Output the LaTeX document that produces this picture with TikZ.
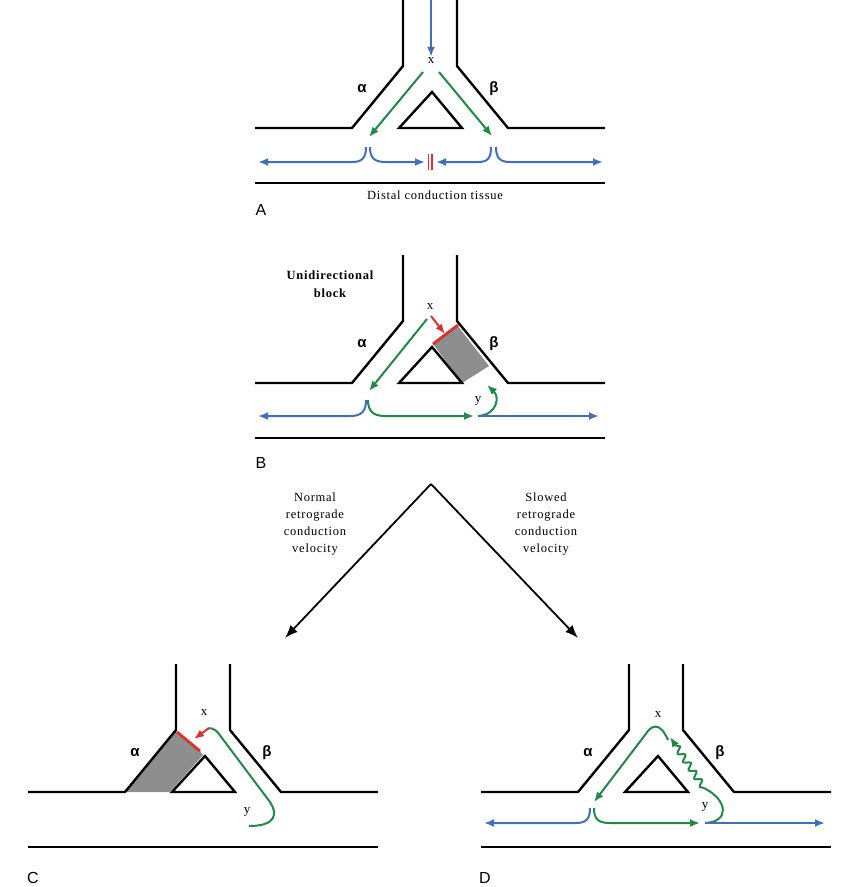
\documentclass[tikz,border=0pt]{standalone}
\usepackage{fontspec}
\setmainfont{Liberation Serif}
\setsansfont{Liberation Sans}
\usetikzlibrary{arrows, arrows.meta, positioning, decorations.pathmorphing}
\definecolor{SigBlue}{HTML}{3F6FBF}
\definecolor{SigGreen}{HTML}{1E8A45}
\definecolor{BlockRed}{HTML}{E0302E}
\definecolor{BlockGray}{HTML}{8E8E8E}

% outline of the branching fibre, drawn in panel-A coordinates
\newcommand{\fibre}{%
  \draw[tissue] (403,0) -- (403,66) -- (352,128) -- (255,128);
  \draw[tissue] (457,0) -- (457,66) -- (508,128) -- (605,128);
  \draw[tissue] (255,183) -- (605,183);
  \draw[tissue] (432,92) -- (399,128) -- (462,128) -- cycle;
  \node[greek] (alpha) at (362,89) {α};
  \node[greek] (beta) at (494,89) {β};
}

\begin{document}
\begin{tikzpicture} [
			x=1pt, y=-1pt,
			tissue/.style={line width=2.4pt, line join=miter},
			tip/.style={-{Latex[length=10pt,width=8pt]}},
			blue/.style={draw=SigBlue, line width=2pt, tip},
			green/.style={draw=SigGreen, line width=2pt, tip},
			redbar/.style={draw=BlockRed, line width=2.8pt},
			lab/.style={font=\fontsize{13}{14}\selectfont, inner sep=1pt},
			greek/.style={font=\fontsize{15}{16}\selectfont\sffamily\bfseries, inner sep=0pt},
			panel/.style={font=\fontsize{16}{17}\selectfont\sffamily, inner sep=0pt},
			note/.style={align=center, font=\fontsize{12.5}{17}\selectfont\addfontfeatures{LetterSpace=6}},
			big/.style={line width=1.8pt, -{Latex[length=13pt,width=10pt]}}
		]
			\useasboundingbox (0,0) rectangle (852,887);

			% A
			\begin{scope}
				\fibre
				\node[lab] (xA) at (431,61) {x};
				\coordinate (topA) at (431,0);
				\draw[blue] (topA) -- (xA.north);
				\coordinate (xl) at (423,72); \coordinate (al) at (369,137);
				\coordinate (xr) at (439,72); \coordinate (ar) at (492,136);
				\draw[green] (xl) -- (al);
				\draw[green] (xr) -- (ar);
				\coordinate (bl) at (258,162); \coordinate (bc1) at (425,162);
				\coordinate (bc2) at (436,162); \coordinate (br) at (603,162);
				\draw[blue] (366,147) .. controls (366,158) and (362,162) .. (352,162) -- (bl);
				\draw[blue] (370,147) .. controls (370,158) and (374,162) .. (386,162) -- (bc1);
				\draw[blue] (491,147) .. controls (491,158) and (488,162) .. (478,162) -- (bc2);
				\draw[blue] (496,147) .. controls (496,158) and (500,162) .. (510,162) -- (br);
				\draw[draw=BlockRed, line width=1.4pt] (428.5,154) -- (428.5,170) (432,154) -- (432,170);
				\node[note] (distal) at (435,195) {Distal conduction tissue};
				\node[panel] (pA) at (261,210) {A};
			\end{scope}

			% B
			\begin{scope}[shift={(0,255)}]
				\fill[BlockGray] (457,70) -- (489,111) -- (462,128) -- (433,89) -- cycle;
				\fibre
				\draw[redbar] (433,89) -- (458,70);
				\node[lab] (xB) at (430,52) {x};
				\draw[draw=BlockRed, line width=2pt, tip] (431,61) -- (445,79);
				\draw[green] (427,64) -- (369,136);
				\node[lab] (yB) at (478,146) {y};
				\coordinate (bl) at (258,161); \coordinate (gr) at (474,161);
				\coordinate (yy) at (478,161); \coordinate (br) at (599,161);
				\draw[blue] (366,145) .. controls (366,156) and (362,161) .. (350,161) -- (bl);
				\draw[green] (368,145) .. controls (368,156) and (373,161) .. (385,161) -- (gr);
				\draw[green] (yy) .. controls (497,160) and (500,142) .. (487,130);
				\draw[blue] (yy) -- (br);
				\node[note, font=\fontsize{12.5}{18}\selectfont\bfseries\addfontfeatures{LetterSpace=6}] (uni) at (330,29) {Unidirectional\\block};
				\node[panel] (pB) at (261,208) {B};
			\end{scope}

			% fork to C and D
			\coordinate (fork) at (431,484);
			\coordinate (toC) at (285,638);
			\coordinate (toD) at (578,638);
			\draw[big] (fork) -- (toC);
			\draw[big] (fork) -- (toD);
			\node[note] (normal) at (315,524) {Normal\\retrograde\\conduction\\velocity};
			\node[note] (slowed) at (546,524) {Slowed\\retrograde\\conduction\\velocity};

			% C
			\begin{scope}[shift={(-227,664)}]
				\fill[BlockGray] (402,67) -- (353,128) -- (397,128) -- (430,91) -- (427,87) -- cycle;
				\fibre
				\draw[redbar] (404,68) -- (427,87);
				\node[lab] (xC) at (431,49) {x};
				\node[lab] (yC) at (474,148) {y};
				\draw[draw=SigGreen, line width=2pt] (476,162) .. controls (503,162) and (505,150) .. (497,138) -- (446,70) .. controls (441,63) and (436,64) .. (434,65);
				\draw[draw=BlockRed, line width=2pt, tip] (436,64) -- (421,75);
				\node[panel] (pC) at (260,214) {C};
			\end{scope}

			% D
			\begin{scope}[shift={(226,664)}]
				\fibre
				\node[lab] (xD) at (432,51) {x};
				\node[lab] (yD) at (479,143) {y};
				\coordinate (yy) at (479,159); \coordinate (wv) at (478,124);
				\draw[green] (442,76) .. controls (434,58) and (426,60) .. (419,71) -- (368,138);
				\draw[green, decorate, decoration={snake, amplitude=3pt, segment length=10pt, post length=10pt}] (wv) -- (444,73);
				\draw[draw=SigGreen, line width=2pt] (yy) .. controls (504,158) and (502,136) .. (wv);
				\coordinate (bl) at (258,159); \coordinate (gr) at (474,159); \coordinate (br) at (599,159);
				\draw[blue] (364,144) .. controls (364,155) and (360,159) .. (350,159) -- (bl);
				\draw[green] (368,144) .. controls (368,155) and (372,159) .. (384,159) -- (gr);
				\draw[blue] (yy) -- (br);
				\node[panel] (pD) at (259,214) {D};
			\end{scope}
		\end{tikzpicture}
\end{document}
